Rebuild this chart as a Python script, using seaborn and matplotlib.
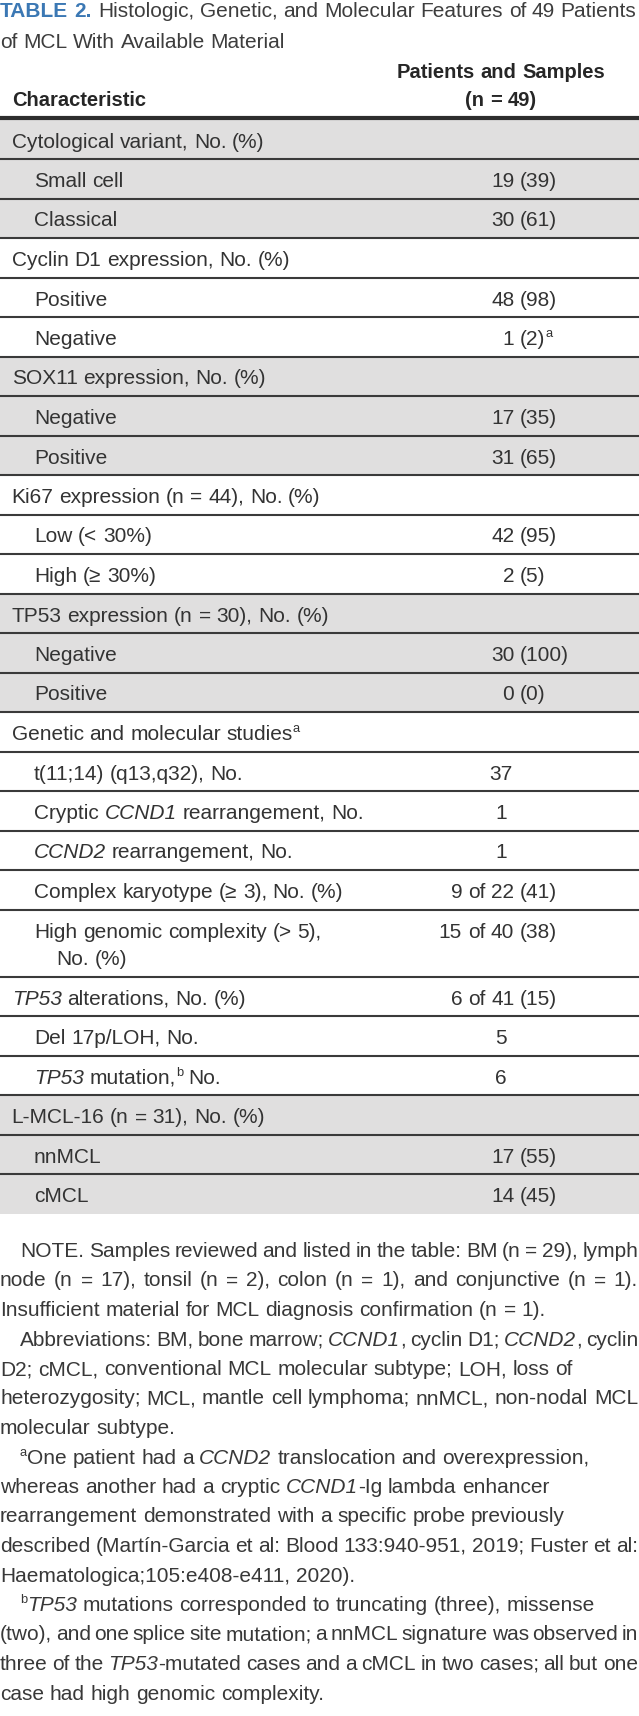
import re
import matplotlib
matplotlib.use("Agg")
import matplotlib.pyplot as plt
import seaborn as sns

# ---- table content ----
title_tag = "TABLE 2."
title_lines = [
    "Histologic, Genetic, and Molecular Features of 49 Patients",
    "of MCL With Available Material",
]
col_label = "Characteristic"
col_value = ["Patients and Samples", "(n = 49)"]

# *x* = italic, ^x = superscript, | = line break inside a cell
row_labels = [
    "Cytological variant, No. (%)",
    "Small cell",
    "Classical",
    "Cyclin D1 expression, No. (%)",
    "Positive",
    "Negative",
    "SOX11 expression, No. (%)",
    "Negative",
    "Positive",
    "Ki67 expression (n = 44), No. (%)",
    "Low (< 30%)",
    "High (≥ 30%)",
    "TP53 expression (n = 30), No. (%)",
    "Negative",
    "Positive",
    "Genetic and molecular studies^a",
    "t(11;14) (q13,q32), No.",
    "Cryptic *CCND1* rearrangement, No.",
    "*CCND2* rearrangement, No.",
    "Complex karyotype (≥ 3), No. (%)",
    "High genomic complexity (> 5),|No. (%)",
    "*TP53* alterations, No. (%)",
    "Del 17p/LOH, No.",
    "*TP53* mutation,^b No.",
    "L-MCL-16 (n = 31), No. (%)",
    "nnMCL",
    "cMCL",
]
row_values = [
    "", "19 (39)", "30 (61)",
    "", "48 (98)", "1 (2)^a",
    "", "17 (35)", "31 (65)",
    "", "42 (95)", "2 (5)",
    "", "30 (100)", "0 (0)",
    "", "37", "1", "1", "9 of 22 (41)", "15 of 40 (38)",
    "6 of 41 (15)", "5", "6",
    "", "17 (55)", "14 (45)",
]
row_level = [0, 1, 1, 0, 1, 1, 0, 1, 1, 0, 1, 1, 0, 1, 1,
             0, 1, 1, 1, 1, 1, 0, 1, 1, 0, 1, 1]
row_group = [0, 0, 0, 1, 1, 1, 2, 2, 2, 3, 3, 3, 4, 4, 4,
             5, 5, 5, 5, 5, 5, 5, 5, 5, 6, 6, 6]

notes = [
    "NOTE. Samples reviewed and listed in the table: BM (n = 29), lymph",
    "node (n = 17), tonsil (n = 2), colon (n = 1), and conjunctive (n = 1).",
    "Insufficient material for MCL diagnosis confirmation (n = 1).",
    "Abbreviations: BM, bone marrow; *CCND1*, cyclin D1; *CCND2*, cyclin",
    "D2; cMCL, conventional MCL molecular subtype; LOH, loss of",
    "heterozygosity; MCL, mantle cell lymphoma; nnMCL, non-nodal MCL",
    "molecular subtype.",
    "^aOne patient had a *CCND2* translocation and overexpression,",
    "whereas another had a cryptic *CCND1*-Ig lambda enhancer",
    "rearrangement demonstrated with a specific probe previously",
    "described (Martín-Garcia et al: Blood 133:940-951, 2019; Fuster et al:",
    "Haematologica;105:e408-e411, 2020).",
    "^b*TP53* mutations corresponded to truncating (three), missense",
    "(two), and one splice site mutation; a nnMCL signature was observed in",
    "three of the *TP53*-mutated cases and a cMCL in two cases; all but one",
    "case had high genomic complexity.",
]
note_first = [1, 0, 0, 1, 0, 0, 0, 1, 0, 0, 0, 0, 1, 0, 0, 0]
note_full = [1, 1, 0, 1, 0, 1, 0, 0, 0, 0, 1, 0, 0, 1, 1, 0]

# ---- style ----
INK = "#333333"
TITLE_INK = "#3d3d3d"
BLUE = "#3b78b4"
SHADE = "#e0dfdf"
RULE = "#3a3a3a"
FS = 15
NOTE_FS = 15
ROW_H = 39.5
LINE_H = 27.8
INDENT = [11.7, 34]
VALUE_X = 501
PAREN_X = 520

sns.set_theme(style="white")
plt.rcParams["font.family"] = ["Liberation Sans", "DejaVu Sans"]

W, H = 639, 1716
fig = plt.figure(figsize=(W / 100, H / 100), dpi=100, facecolor="white")
ax = fig.add_axes([0, 0, 1, 1])
ax.set_xlim(0, W)
ax.set_ylim(H, 0)
ax.axis("off")
renderer = fig.canvas.get_renderer()
PX = 100 / 72

TOKEN = re.compile(r"\*([^*]+)\*|\^(\w)|([^*^]+)")


def pieces(word):
    out = []
    for m in TOKEN.finditer(word):
        if m.group(1):
            out.append((m.group(1), "italic"))
        elif m.group(2):
            out.append((m.group(2), "sup"))
        else:
            out.append((m.group(3), "normal"))
    return out


def width_of(t):
    return t.get_window_extent(renderer).width


def space_width(fs, weight="normal"):
    a = ax.text(0, 0, "n n", fontsize=fs, fontweight=weight)
    b = ax.text(0, 0, "nn", fontsize=fs, fontweight=weight)
    w = width_of(a) - width_of(b)
    a.remove()
    b.remove()
    return w


def draw_rich(s, x, y, fs, color=INK, weight="normal", anchor="left",
              fit=None, justify=False):
    words = []
    for word in s.split(" "):
        items = []
        for txt, style in pieces(word):
            size = fs * 0.62 if style == "sup" else fs
            t = ax.text(0, y, txt, fontsize=size, color=color, fontweight=weight,
                        fontstyle="italic" if style == "italic" else "normal",
                        ha="left", va="baseline", zorder=4)
            if style == "sup":
                t.set_y(y - fs * PX * 0.38)
            items.append((t, width_of(t)))
        words.append(items)
    sp = space_width(fs, weight)
    n = len(words)
    ink = sum(w for items in words for _, w in items)
    total = ink + sp * (n - 1)
    if fit is not None and n > 1 and justify:
        gap = (fit - ink) / (n - 1)
        if gap >= 0.45 * sp:
            sp, total = gap, fit
    if fit is not None and total > fit + 0.5:
        for items in words:
            for t, _ in items:
                t.remove()
        return draw_rich(s, x, y, fs * fit / total * 0.998, color, weight,
                         anchor, fit, justify)
    if anchor == "right":
        x0 = x - total
    elif anchor == "center":
        x0 = x - total / 2
    else:
        x0 = x
    for items in words:
        for t, w in items:
            t.set_x(x0)
            x0 += w
        x0 += sp
    return fs


# title
draw_rich(title_tag, 0, 16.7, FS, color=BLUE, weight="bold")
fs_t = draw_rich(title_lines[0], 98, 16.7, FS, color=TITLE_INK, fit=W - 99)
draw_rich(title_lines[1], 0, 48.3, fs_t, color=TITLE_INK)

# header
draw_rich(col_label, INDENT[0], 106, 14.5, color="#262626", weight="bold")
draw_rich(col_value[0], VALUE_X, 78.3, 14.5, color="#262626", weight="bold",
          anchor="center")
draw_rich(col_value[1], VALUE_X, 106, 14.5, color="#262626", weight="bold",
          anchor="center")

# body
sp_val = space_width(FS)
y = 119.5
for i, (label, value, level, group) in enumerate(
        zip(row_labels, row_values, row_level, row_group)):
    lines = label.split("|")
    h = ROW_H + (len(lines) - 1) * LINE_H
    if group % 2 == 0:
        ax.axhspan(y, y + h, color=SHADE, lw=0, zorder=0)
    if i > 0:
        ax.axhline(y, color=RULE, lw=1.5, zorder=2)
    base = y + 28
    for j, line in enumerate(lines):
        draw_rich(line, INDENT[level] + (22 if j else 0), base + j * LINE_H, FS)
    if value:
        if " (" in value:
            left, right = value.rsplit(" (", 1)
            draw_rich(left, PAREN_X - sp_val, base, FS, anchor="right")
            draw_rich("(" + right, PAREN_X, base, FS)
        else:
            draw_rich(value, VALUE_X, base, FS, anchor="center")
    y += h

ax.axhline(118, color="#2e2e2e", lw=3.0, zorder=3)

# notes
NOTE_Y0, NOTE_DY = 1257, 29.5
for k, line in enumerate(notes):
    x = 20 if note_first[k] else 0
    draw_rich(line, x, NOTE_Y0 + k * NOTE_DY, NOTE_FS, color="#383838",
              fit=W - 1 - x, justify=bool(note_full[k]))

fig.savefig("out.png", dpi=100, facecolor="white")
